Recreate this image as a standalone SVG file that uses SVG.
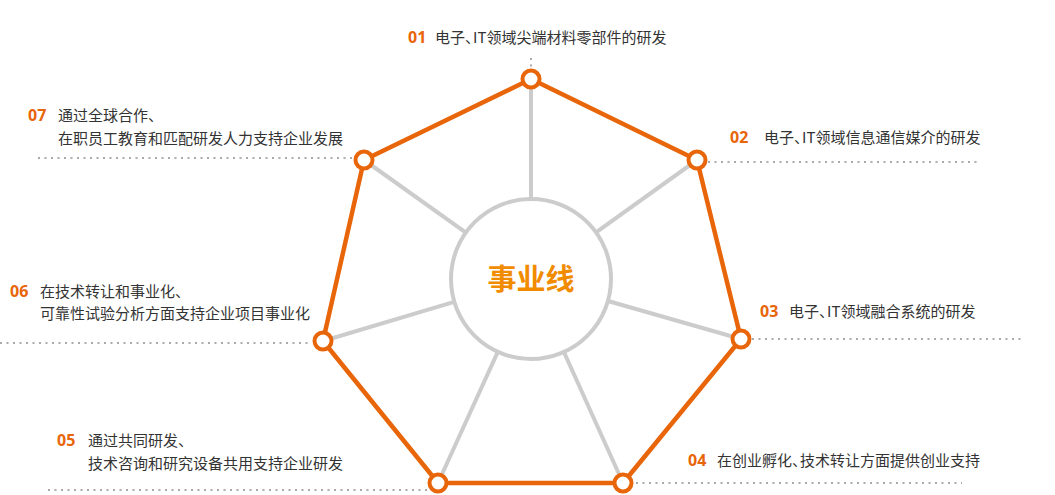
<svg xmlns="http://www.w3.org/2000/svg" width="1055" height="495" viewBox="0 0 1055 495">
<style>
.spoke{stroke:#cccccc;stroke-width:4;fill:none}
.poly{stroke:#e8650a;stroke-width:4.5;fill:none;stroke-linejoin:round}
.node{fill:#ffffff;stroke:#e8650a;stroke-width:4}
.dot{stroke:#aaaaaa;stroke-width:2;stroke-dasharray:2 4.5;fill:none}
.num{font-family:"Noto Sans","Liberation Sans",sans-serif;font-weight:bold;font-size:16px;fill:#e8650a}
.lbl{font-family:"Noto Sans CJK SC","Noto Sans",sans-serif;font-size:15px;fill:#333333}
.ctr{font-family:"Noto Sans CJK SC",sans-serif;font-weight:bold;font-size:29px;fill:#f18b00}
.cm{letter-spacing:-7px}
</style>
<g id="connectors">
<line class="dot" x1="531" y1="58" x2="531" y2="67"/>
<line class="dot" x1="38" y1="158" x2="355" y2="158"/>
<line class="dot" x1="708" y1="162" x2="978" y2="162"/>
<line class="dot" x1="752" y1="339" x2="1022" y2="339"/>
<line class="dot" x1="0" y1="343" x2="312" y2="343"/>
<line class="dot" x1="48" y1="490" x2="428" y2="490"/>
<line class="dot" x1="636" y1="483" x2="962" y2="483"/>
<line class="spoke" x1="531" y1="279" x2="531" y2="79"/>
<line class="spoke" x1="531" y1="279" x2="697" y2="160"/>
<line class="spoke" x1="531" y1="279" x2="741" y2="339"/>
<line class="spoke" x1="531" y1="279" x2="623" y2="483"/>
<line class="spoke" x1="531" y1="279" x2="438" y2="483"/>
<line class="spoke" x1="531" y1="279" x2="323" y2="341"/>
<line class="spoke" x1="531" y1="279" x2="364" y2="160"/>
<polygon class="poly" points="531,79 697,160 741,339 623,483 438,483 323,341 364,160"/>
</g>
<g id="center">
<circle cx="531" cy="279" r="80" fill="#ffffff" stroke="#cccccc" stroke-width="4"/>
<text class="ctr" x="531" y="290" text-anchor="middle">事业线</text>
</g>
<g id="node01">
<circle class="node" cx="531" cy="79" r="8.5"/>
<text class="num" x="408" y="43">01</text>
<text class="lbl" x="435" y="43">电子<tspan class="cm">、</tspan>IT领域尖端材料零部件的研发</text>
</g>
<g id="node02">
<circle class="node" cx="697" cy="160" r="8.5"/>
<text class="num" x="730" y="143">02</text>
<text class="lbl" x="764" y="143">电子<tspan class="cm">、</tspan>IT领域信息通信媒介的研发</text>
</g>
<g id="node03">
<circle class="node" cx="741" cy="339" r="8.5"/>
<text class="num" x="760" y="317">03</text>
<text class="lbl" x="789" y="317">电子<tspan class="cm">、</tspan>IT领域融合系统的研发</text>
</g>
<g id="node04">
<circle class="node" cx="623" cy="483" r="8.5"/>
<text class="num" x="688" y="466">04</text>
<text class="lbl" x="717" y="466">在创业孵化<tspan class="cm">、</tspan>技术转让方面提供创业支持</text>
</g>
<g id="node05">
<circle class="node" cx="438" cy="483" r="8.5"/>
<text class="num" x="57" y="446">05</text>
<text class="lbl" x="88" y="446">通过共同研发、</text>
<text class="lbl" x="88" y="469">技术咨询和研究设备共用支持企业研发</text>
</g>
<g id="node06">
<circle class="node" cx="323" cy="341" r="8.5"/>
<text class="num" x="10" y="297">06</text>
<text class="lbl" x="40" y="297">在技术转让和事业化、</text>
<text class="lbl" x="40" y="319">可靠性试验分析方面支持企业项目事业化</text>
</g>
<g id="node07">
<circle class="node" cx="364" cy="160" r="8.5"/>
<text class="num" x="28" y="121">07</text>
<text class="lbl" x="58" y="121">通过全球合作、</text>
<text class="lbl" x="58" y="144">在职员工教育和匹配研发人力支持企业发展</text>
</g>
</svg>
